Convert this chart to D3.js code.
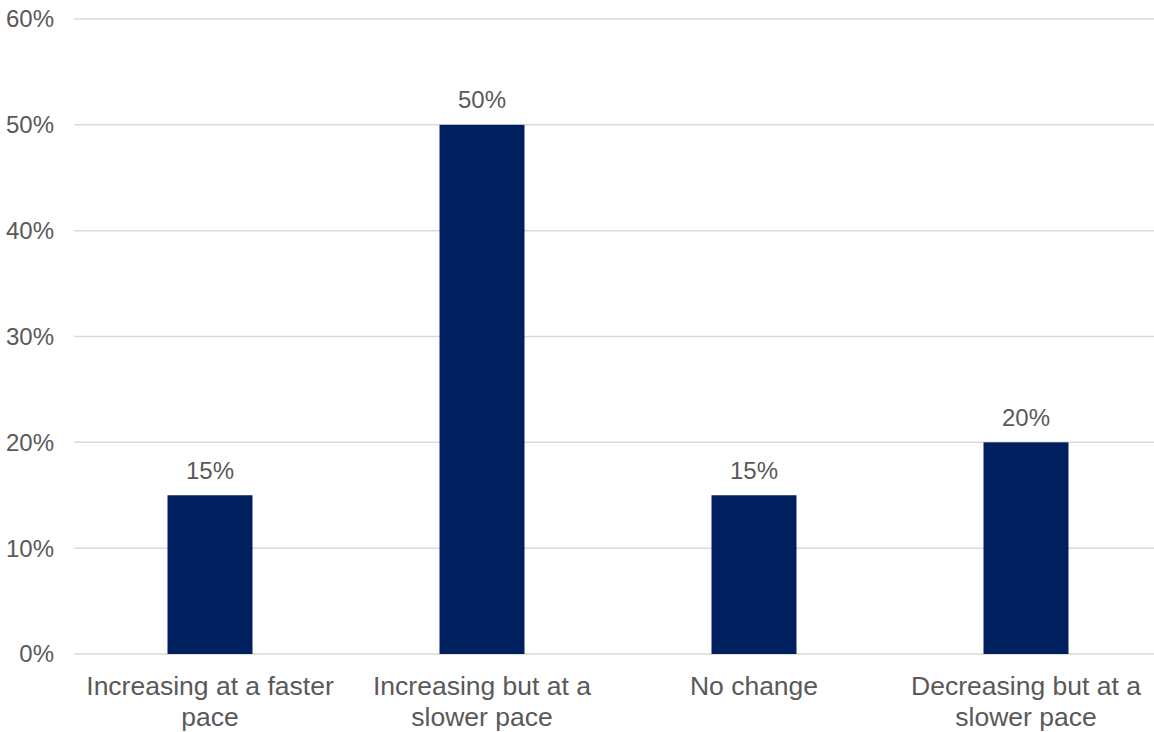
<!DOCTYPE html>
<html>
<head>
<meta charset="utf-8">
<script src="https://cdn.jsdelivr.net/npm/d3@7"></script>
<style>
  html, body { margin: 0; padding: 0; background: #ffffff; }
  svg { display: block; }
  text { font-family: "Liberation Sans", Arial, sans-serif; fill: #595959; }
</style>
</head>
<body>
<script>
// Survey responses: share of respondents per category
const categories = [
  ["Increasing at a faster", "pace"],
  ["Increasing but at a", "slower pace"],
  ["No change"],
  ["Decreasing but at a", "slower pace"]
];
const values = [0.15, 0.50, 0.15, 0.20];
const yTicks = [0, 0.1, 0.2, 0.3, 0.4, 0.5, 0.6];

const width = 1154, height = 732;
const plot = { left: 74, right: 1162, top: 19, bottom: 654 };

const svg = d3.select("body").append("svg")
  .attr("width", width)
  .attr("height", height);

const keys = categories.map((c, i) => i);

const x = d3.scaleBand()
  .domain(keys)
  .range([plot.left, plot.right])
  .paddingInner(0.6875)
  .paddingOuter(0.34375);

const y = d3.scaleLinear()
  .domain([0, 0.6])
  .range([plot.bottom, plot.top]);

const fmt = d3.format(".0%");

// Horizontal gridlines
svg.append("g")
  .selectAll("line")
  .data(yTicks)
  .join("line")
  .attr("x1", plot.left)
  .attr("x2", plot.right)
  .attr("y1", d => y(d))
  .attr("y2", d => y(d))
  .attr("stroke", "#d9d9d9")
  .attr("stroke-width", 1.5);

// Y axis labels
svg.append("g")
  .selectAll("text")
  .data(yTicks)
  .join("text")
  .attr("x", 54)
  .attr("y", d => y(d))
  .attr("dy", "0.35em")
  .attr("text-anchor", "end")
  .style("font-size", "24px")
  .text(d => fmt(d));

// Bars
svg.append("g")
  .selectAll("rect")
  .data(values)
  .join("rect")
  .attr("x", (d, i) => x(i))
  .attr("width", x.bandwidth())
  .attr("y", d => y(d))
  .attr("height", d => y(0) - y(d))
  .attr("fill", "#002060");

// Value labels above bars
svg.append("g")
  .selectAll("text")
  .data(values)
  .join("text")
  .attr("x", (d, i) => x(i) + x.bandwidth() / 2)
  .attr("y", d => y(d) - 16.5)
  .attr("text-anchor", "middle")
  .style("font-size", "24px")
  .text(d => fmt(d));

// Category labels (wrapped onto two lines)
const cat = svg.append("g")
  .selectAll("text")
  .data(categories)
  .join("text")
  .attr("text-anchor", "middle")
  .style("font-size", "26.5px")
  .attr("transform", (d, i) => `translate(${x(i) + x.bandwidth() / 2},695)`);

cat.selectAll("tspan")
  .data(d => d)
  .join("tspan")
  .attr("x", 0)
  .attr("y", (d, j) => j * 30.5)
  .text(d => d);
</script>
</body>
</html>
